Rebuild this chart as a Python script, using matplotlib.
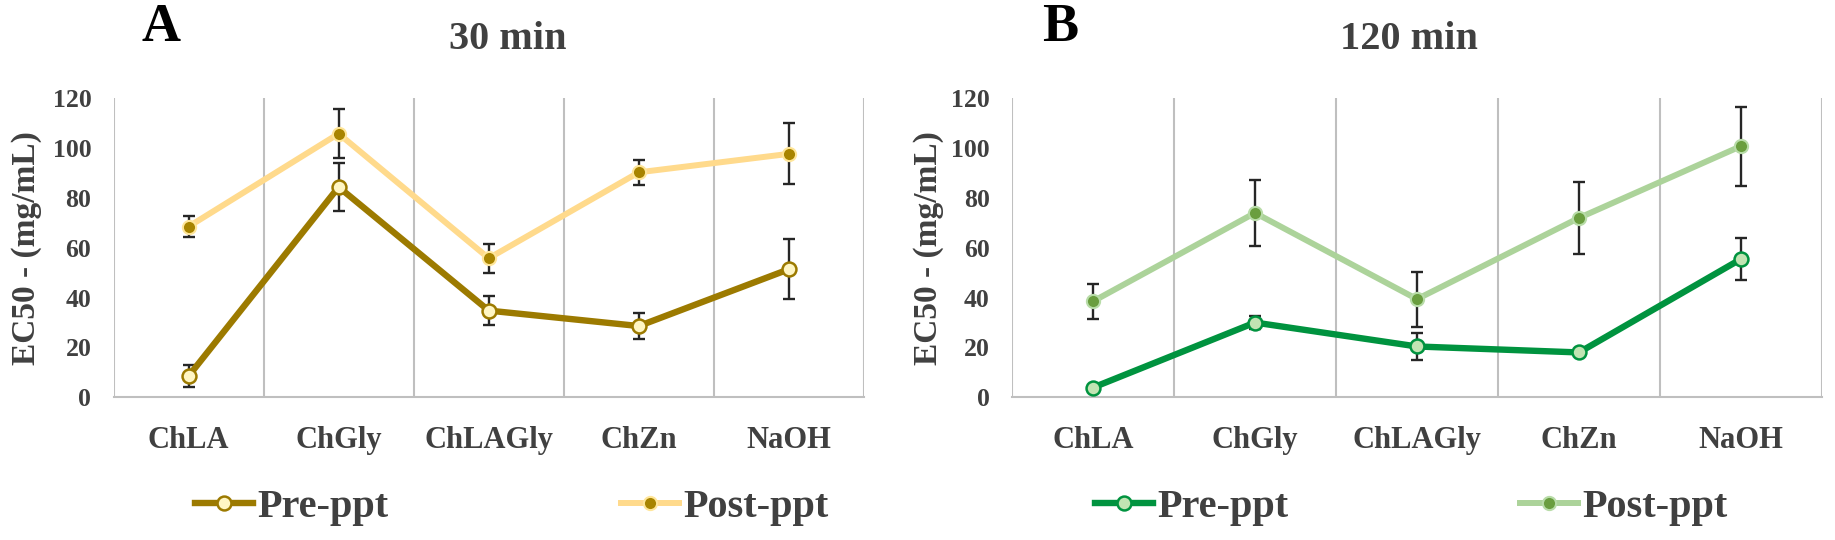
import matplotlib
matplotlib.use("Agg")
import matplotlib.pyplot as plt
from matplotlib.lines import Line2D
import numpy as np

categories = ["ChLA", "ChGly", "ChLAGly", "ChZn", "NaOH"]
yticks = [0, 20, 40, 60, 80, 100, 120]

# Panel A: 30 min
a_pre = [8.5, 84.4, 34.8, 28.6, 51.4]
a_pre_err = [4.3, 9.7, 5.7, 5.3, 12.0]
a_post = [68.5, 105.8, 55.8, 90.3, 97.7]
a_post_err = [4.2, 9.9, 5.8, 5.0, 12.2]

# Panel B: 120 min
b_pre = [3.9, 30.0, 20.4, 18.0, 55.5]
b_pre_err = [0.0, 2.5, 5.5, 0.0, 8.6]
b_post = [38.5, 74.0, 39.4, 72.0, 100.8]
b_post_err = [6.9, 13.1, 11.0, 14.5, 15.9]

plt.rcParams['font.family'] = ['Liberation Serif', 'DejaVu Serif']
TXT = '#404040'
W, H = 1835, 540

fig = plt.figure(figsize=(18.35, 5.4), dpi=100)
axA = fig.add_axes([113.5 / W, 1 - 397.3 / H, 750.5 / W, 299.0 / H])
axB = fig.add_axes([1012 / W, 1 - 397.3 / H, 810 / W, 299.0 / H])

A_STYLE = dict(c_pre='#9C7A00', c_pre_face='#FFF6C4', c_post='#FFDA8C',
               c_post_face='#A88400', c_post_edge='#FFE69A')
B_STYLE = dict(c_pre='#00933F', c_pre_face='#C2E4B3', c_post='#ACD39A',
               c_post_face='#6A9E3F', c_post_edge='#B8DCA8')

def draw(ax, pre, pre_err, post, post_err, st, ylab_x):
    x = np.arange(len(categories))
    ax.errorbar(x, post, yerr=post_err, fmt='none', ecolor='#262626', elinewidth=1.7,
                capsize=4.5, capthick=1.7, zorder=3)
    ax.errorbar(x, pre, yerr=pre_err, fmt='none', ecolor='#262626', elinewidth=1.7,
                capsize=4.5, capthick=1.7, zorder=3)
    ax.plot(x, post, color=st['c_post'], lw=4.3, marker='o', ms=9.5, mfc=st['c_post_face'],
            mec=st['c_post_edge'], mew=1.5, zorder=4, solid_capstyle='round')
    ax.plot(x, pre, color=st['c_pre'], lw=4.6, marker='o', ms=10, mfc=st['c_pre_face'],
            mec=st['c_pre'], mew=1.8, zorder=5, solid_capstyle='round')
    ax.set_xlim(-0.5, len(categories) - 0.5)
    ax.set_ylim(0, 120)
    for b in np.arange(-0.5, len(categories), 1.0):
        ax.axvline(b, color='#BFBFBF', lw=1.5, zorder=1)
    for s in ['top', 'right', 'left']:
        ax.spines[s].set_visible(False)
    ax.spines['bottom'].set_color('#BFBFBF')
    ax.spines['bottom'].set_linewidth(1.5)
    ax.set_yticks(yticks)
    ax.set_yticklabels([str(t) for t in yticks], fontsize=18.5, fontweight='bold', color=TXT)
    ax.set_xticks(x)
    ax.set_xticklabels(categories, fontsize=22, fontweight='bold', color=TXT)
    ax.tick_params(axis='y', length=0, pad=16)
    ax.tick_params(axis='x', length=0, pad=21)
    ax.set_ylabel('EC50 - (mg/mL)', fontsize=24, fontweight='bold', color=TXT)
    ax.yaxis.set_label_coords(ylab_x, 0.5)

draw(axA, a_pre, a_pre_err, a_post, a_post_err, A_STYLE, (42 - 113.5) / 750.5)
draw(axB, b_pre, b_pre_err, b_post, b_post_err, B_STYLE, (944 - 1012) / 810.0)

fig.text(141.6 / W, 0.948, 'A', fontsize=39, fontweight='bold', color='black', va='center')
fig.text(508 / W, 0.927, '30 min', fontsize=29, fontweight='bold', color=TXT, va='center', ha='center')
fig.text(1042 / W, 0.948, 'B', fontsize=39, fontweight='bold', color='black', va='center')
fig.text(1408.5 / W, 0.927, '120 min', fontsize=29, fontweight='bold', color=TXT, va='center', ha='center')

def leg_entry(color, face, edge, lw, ms, mew, label, x_px):
    h = Line2D([], [], color=color, lw=lw, marker='o', ms=ms, mfc=face, mec=edge, mew=mew)
    fig.legend([h], [label], loc='center left', bbox_to_anchor=(x_px / W, 0.061),
               frameon=False, borderpad=0, borderaxespad=0, handlelength=1.45,
               handletextpad=0.1, prop={'family': 'Liberation Serif', 'weight': 'bold', 'size': 29},
               labelcolor=TXT)

leg_entry(A_STYLE['c_pre'], A_STYLE['c_pre_face'], A_STYLE['c_pre'], 4.6, 10, 1.8, 'Pre-ppt', 195)
leg_entry(A_STYLE['c_post'], A_STYLE['c_post_face'], A_STYLE['c_post_edge'], 4.3, 9.5, 1.5, 'Post-ppt', 621)
leg_entry(B_STYLE['c_pre'], B_STYLE['c_pre_face'], B_STYLE['c_pre'], 4.6, 10, 1.8, 'Pre-ppt', 1095)
leg_entry(B_STYLE['c_post'], B_STYLE['c_post_face'], B_STYLE['c_post_edge'], 4.3, 9.5, 1.5, 'Post-ppt', 1520)

fig.savefig('out.png', dpi=100, facecolor='white')
